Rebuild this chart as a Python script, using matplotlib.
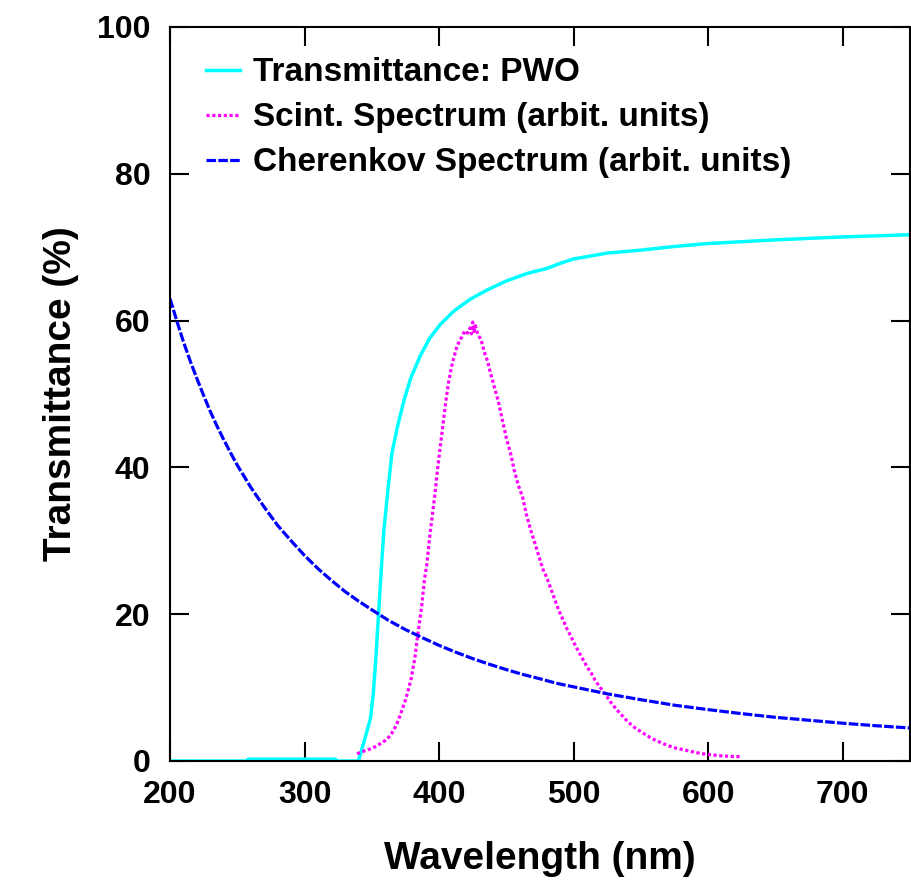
import matplotlib
matplotlib.use("Agg")
import matplotlib.pyplot as plt

plt.rcParams['font.family'] = ['Liberation Sans', 'DejaVu Sans']
plt.rcParams['font.weight'] = 'bold'

# Transmittance of PWO (%)
pwo_wl = [200, 257, 258, 323, 324, 340, 344, 349, 351, 353, 355, 357, 359, 362, 365,
          369, 374, 379, 386, 393, 401, 411, 423, 436, 450, 465, 480, 490, 500, 525,
          550, 575, 600, 650, 700, 750]
pwo_t = [0, 0, 0.25, 0.25, 0, 0, 2.5, 5.8, 9, 14, 20, 26, 31.5, 37, 42,
         45.5, 49.2, 52.2, 55.2, 57.6, 59.5, 61.3, 62.9, 64.2, 65.4, 66.4, 67.1, 67.8, 68.4, 69.2,
         69.6, 70.1, 70.5, 71.0, 71.4, 71.7]

# Scintillation spectrum (arbitrary units)
sc_wl = [339, 345, 350, 355, 360, 364, 368, 371, 375, 379, 382, 384, 387, 389, 391,
         393, 395, 397, 399, 401, 403, 405, 407, 409, 411, 413, 415, 417, 419, 421,
         423, 424, 425, 426, 427, 429, 431, 434, 436, 438, 441, 444, 447, 450, 453,
         456, 459, 462, 465, 468, 471, 474, 477, 480, 483, 486, 489, 492, 495, 498,
         501, 504, 507, 510, 513, 516, 519, 522, 525, 528, 532, 536, 540, 545, 550,
         555, 560, 565, 570, 575, 580, 585, 590, 595, 600, 605, 610, 615, 620, 625]
sc_v = [1.0, 1.4, 1.7, 2.2, 2.8, 3.5, 4.8, 6.2, 8.3, 11.0, 14.0, 17.0, 21.0, 24.5, 27.0,
        30.5, 33.5, 36.5, 40.0, 43.0, 46.0, 49.0, 51.5, 53.5, 55.0, 56.3, 57.2, 57.8, 58.6, 58.3,
        59.0, 58.2, 59.8, 58.5, 59.3, 58.0, 57.5, 55.5, 54.5, 53.0, 51.0, 49.0, 46.5, 44.0, 42.0,
        39.5, 37.5, 36.0, 33.5, 31.5, 29.8, 28.0, 26.2, 25.0, 23.5, 22.0, 20.5, 19.3, 18.0, 17.0,
        15.8, 14.8, 13.8, 12.8, 12.0, 11.0, 10.2, 9.5, 8.7, 7.9, 7.0, 6.2, 5.4, 4.6, 4.0,
        3.4, 2.9, 2.5, 2.1, 1.8, 1.6, 1.4, 1.2, 1.0, 0.9, 0.8, 0.7, 0.65, 0.6, 0.6]

# Cherenkov spectrum (arbitrary units)
ch_wl = [200, 205, 210, 215, 220, 225, 230, 235, 240, 245, 250, 260, 270, 280, 290,
         300, 310, 320, 330, 340, 350, 362, 375, 387, 400, 412, 425, 437, 450, 462,
         475, 487, 500, 525, 550, 575, 600, 625, 650, 675, 700, 725, 750]
ch_v = [63.0, 60.0, 57.1, 54.5, 52.1, 49.8, 47.6, 45.6, 43.75, 42.0, 40.3, 37.3, 34.6, 32.1, 30.0,
        28.0, 26.2, 24.6, 23.1, 21.8, 20.6, 19.2, 17.9, 16.85, 15.75, 14.85, 13.95, 13.2, 12.45, 11.8,
        11.2, 10.6, 10.1, 9.15, 8.35, 7.6, 7.0, 6.45, 5.95, 5.55, 5.15, 4.8, 4.5]

x_ticks = [200, 300, 400, 500, 600, 700]
y_ticks = [0, 20, 40, 60, 80, 100]

fig = plt.figure(figsize=(9.12, 8.81), dpi=100)
ax = fig.add_axes([170/912, 120/881, 740/912, 734/881])

ax.plot(pwo_wl, pwo_t, color='#00FFFF', lw=2.5, label='Transmittance: PWO')
ax.plot(sc_wl, sc_v, color='#FF00FF', lw=2.3, linestyle=(0, (1, 0.8)),
        label='Scint. Spectrum (arbit. units)')
ax.plot(ch_wl, ch_v, color='#0000FF', lw=2.3, linestyle=(0, (3, 0.7)),
        label='Cherenkov Spectrum (arbit. units)')

ax.set_xlim(200, 750)
ax.set_ylim(0, 100)
ax.set_xticks(x_ticks)
ax.set_yticks(y_ticks)
ax.tick_params(direction='in', length=14, width=1.5, top=True, right=True,
               labelsize=23, pad=14)
for lab in ax.get_xticklabels() + ax.get_yticklabels():
    lab.set_fontweight('bold')
for s in ax.spines.values():
    s.set_linewidth(1.5)

ax.set_xlabel('Wavelength (nm)', fontsize=28, fontweight='bold', labelpad=22)
ax.set_ylabel('Transmittance (%)', fontsize=28, fontweight='bold', labelpad=13)

leg = ax.legend(loc='upper left', frameon=False, fontsize=24, handlelength=1.03,
                handletextpad=0.38, labelspacing=0.42, borderaxespad=0.0,
                bbox_to_anchor=(0.030, 0.977))

fig.savefig('out.png', dpi=100)
